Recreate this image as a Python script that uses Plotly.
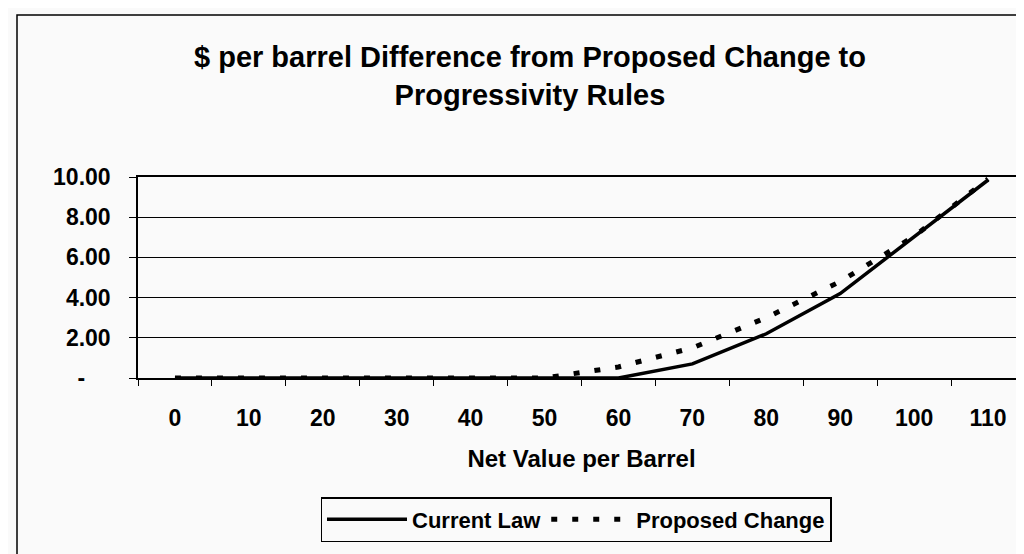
import plotly.graph_objects as go

categories = ["0", "10", "20", "30", "40", "50", "60", "70", "80", "90", "100", "110"]
current_law = [0, 0, 0, 0, 0, 0, 0, 0.7, 2.2, 4.2, 7.0, 9.85]
proposed_change = [0, 0, 0, 0, 0, 0, 0.55, 1.5, 3.0, 4.8, 7.05, 9.9]
y_tick_vals = [0, 2, 4, 6, 8, 10]
y_tick_text = ["-\u00a0\u00a0\u00a0\u00a0", "2.00", "4.00", "6.00", "8.00", "10.00"]

FONT = "Arial, 'Liberation Sans', Helvetica, sans-serif"
W, H = 1024, 554
L, R, T, B = 130, 1017, 169, 370

def px_x(p):
    return (p - L) / (R - L)

def px_y(p):
    return (B - p) / (B - T)

fig = go.Figure()
fig.add_trace(go.Scatter(
    x=categories, y=current_law, mode="lines", name="Current Law",
    line=dict(color="black", width=3.5),
))
fig.add_trace(go.Scatter(
    x=categories, y=proposed_change, mode="lines", name="Proposed Change",
    line=dict(color="black", width=5, dash="6px,15px"),
))

fig.update_layout(
    width=W, height=H,
    margin=dict(l=L, r=W - R, t=T, b=H - B, autoexpand=False),
    paper_bgcolor="#fafafa",
    plot_bgcolor="#fafafa",
    font=dict(family=FONT, color="black", size=22, weight="bold"),
    title=dict(
        text="$ per barrel Difference from Proposed Change to<br>Progressivity Rules",
        x=522 / W, xanchor="center", xref="container",
        y=1 - 59 / H, yanchor="middle", yref="container",
        font=dict(family=FONT, size=29, color="black", weight="bold"),
    ),
    xaxis=dict(
        type="category",
        range=[-0.5, 11.5],
        showline=True, linecolor="black", linewidth=1.5, mirror=True,
        ticks="outside", tickson="boundaries", ticklen=6, tickcolor="black",
        tickfont=dict(size=23, family=FONT, weight="bold"),
        ticklabelstandoff=19,
        showgrid=False, zeroline=False,
        title=dict(text="Net Value per Barrel", standoff=20,
                   font=dict(size=24, family=FONT, weight="bold")),
    ),
    yaxis=dict(
        range=[0, 10],
        tickvals=y_tick_vals, ticktext=y_tick_text,
        showline=True, linecolor="black", linewidth=1.5, mirror=True,
        ticks="outside", ticklen=7, tickcolor="black",
        tickfont=dict(size=23, family=FONT, weight="bold"),
        ticklabelstandoff=14,
        showgrid=True, gridcolor="black", gridwidth=1,
        zeroline=False,
    ),
    showlegend=True,
    legend=dict(
        orientation="h",
        x=px_x(568), xanchor="center",
        y=px_y(489), yanchor="top",
        bordercolor="black", borderwidth=1.5,
        bgcolor="#fafafa",
        font=dict(size=22, family=FONT, weight="bold"),
        traceorder="normal",
        itemwidth=80,
    ),
    shapes=[dict(
        type="rect", xref="paper", yref="paper",
        x0=px_x(9), x1=px_x(1040), y0=px_y(570), y1=px_y(7),
        line=dict(color="black", width=1.5), layer="below",
    )],
)

fig.write_html("out.html")
